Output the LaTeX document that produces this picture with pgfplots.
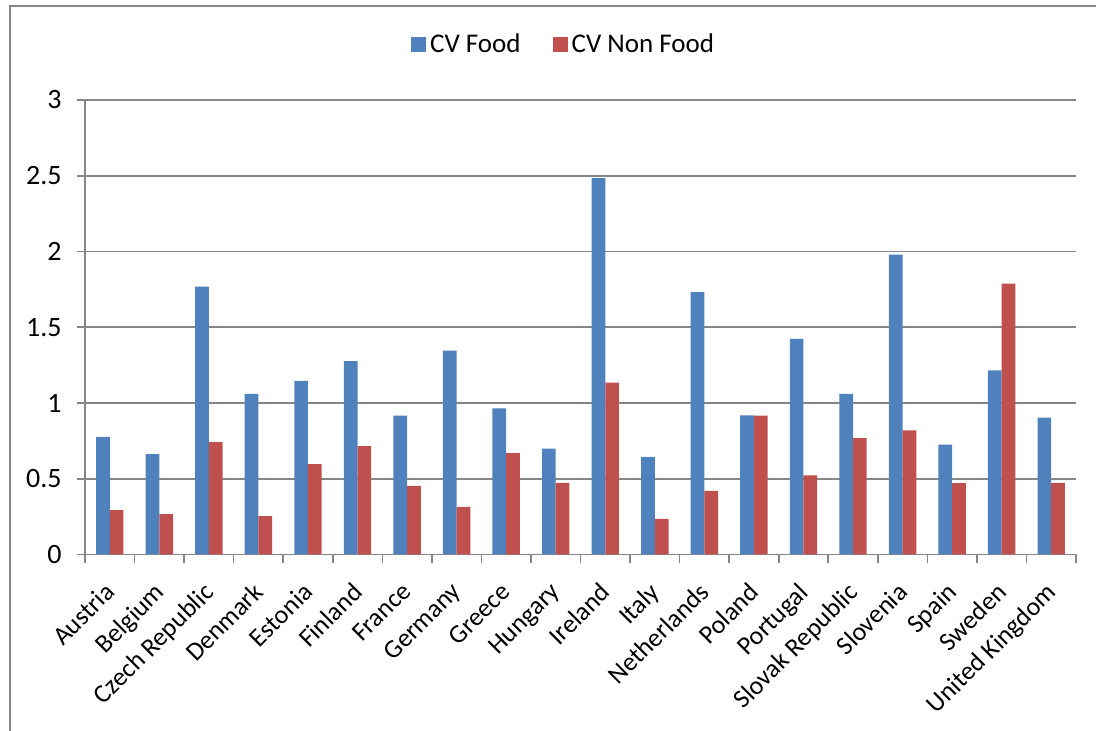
\documentclass[border=0pt]{standalone}
\usepackage{pgfplots}
\pgfplotsset{compat=1.18}
\usepackage{fontspec}
\setmainfont{Carlito}
\definecolor{cvblue}{HTML}{4F81BD}
\definecolor{cvred}{HTML}{C0504D}
\definecolor{axgray}{HTML}{868686}
\begin{document}
\begin{tikzpicture}[x=1pt,y=1pt]
\path[use as bounding box] (0,0) rectangle (548,365.5);
\draw[axgray, line width=0.8pt] (5,-2) -- (5,362.5) -- (550,362.5);
\begin{axis}[
  at={(42.5pt,88.25pt)}, anchor=south west,
  scale only axis, width=495.5pt, height=227.25pt,
  ybar=0pt, bar width=6.85pt,
  xmin=-0.5, xmax=19.5, ymin=0, ymax=3,
  ytick={0,0.5,...,3},
  yticklabels={0,0.5,1,1.5,2,2.5,3},
  xtick={0,...,19},
  xticklabels={Austria,Belgium,Czech Republic,Denmark,Estonia,Finland,France,Germany,Greece,Hungary,Ireland,Italy,Netherlands,Poland,Portugal,Slovak Republic,Slovenia,Spain,Sweden,United Kingdom},
  minor xtick={-0.5,0.5,...,19.5},
  axis x line*=bottom, axis y line*=left,
  axis line style={axgray, line width=0.8pt},
  tick align=outside, tick pos=left,
  major tick length=4.2pt, minor tick length=4.5pt,
  major x tick style={draw=none},
  minor x tick style={axgray, line width=0.8pt},
  ytick style={axgray, line width=0.8pt},
  ymajorgrids, major grid style={axgray, line width=0.8pt},
  yticklabel style={font=\fontsize{14}{16}\selectfont, text=black, xshift=-4pt},
  /pgf/number format/assume math mode=true,
  xticklabel style={font=\fontsize{13}{15}\selectfont, text=black, rotate=45, anchor=north east, inner sep=1pt, xshift=-7.6pt, yshift=-3pt},
  legend style={at={(0.484,1.121)}, anchor=center, draw=none, fill=none,
    font=\fontsize{13.5}{16}\selectfont, legend columns=2,
    /tikz/every even column/.append style={column sep=14pt}},
  legend cell align=left,
]
\addplot[fill=cvblue, draw=none, legend image code/.code={\fill[cvblue] (0pt,-3.75pt) rectangle (7.5pt,3.75pt);}] coordinates {
(0,0.776) (1,0.662) (2,1.768) (3,1.060) (4,1.146) (5,1.276) (6,0.917) (7,1.346) (8,0.965) (9,0.699)
(10,2.485) (11,0.644) (12,1.731) (13,0.919) (14,1.423) (15,1.060) (16,1.979) (17,0.726) (18,1.216) (19,0.904)};
\addplot[fill=cvred, draw=none, legend image code/.code={\fill[cvred] (0pt,-3.75pt) rectangle (7.5pt,3.75pt);}] coordinates {
(0,0.293) (1,0.266) (2,0.741) (3,0.253) (4,0.596) (5,0.715) (6,0.453) (7,0.314) (8,0.669) (9,0.473)
(10,1.135) (11,0.235) (12,0.420) (13,0.917) (14,0.523) (15,0.768) (16,0.820) (17,0.471) (18,1.788) (19,0.473)};
\legend{CV Food, CV Non Food}
\end{axis}
\end{tikzpicture}
\end{document}
